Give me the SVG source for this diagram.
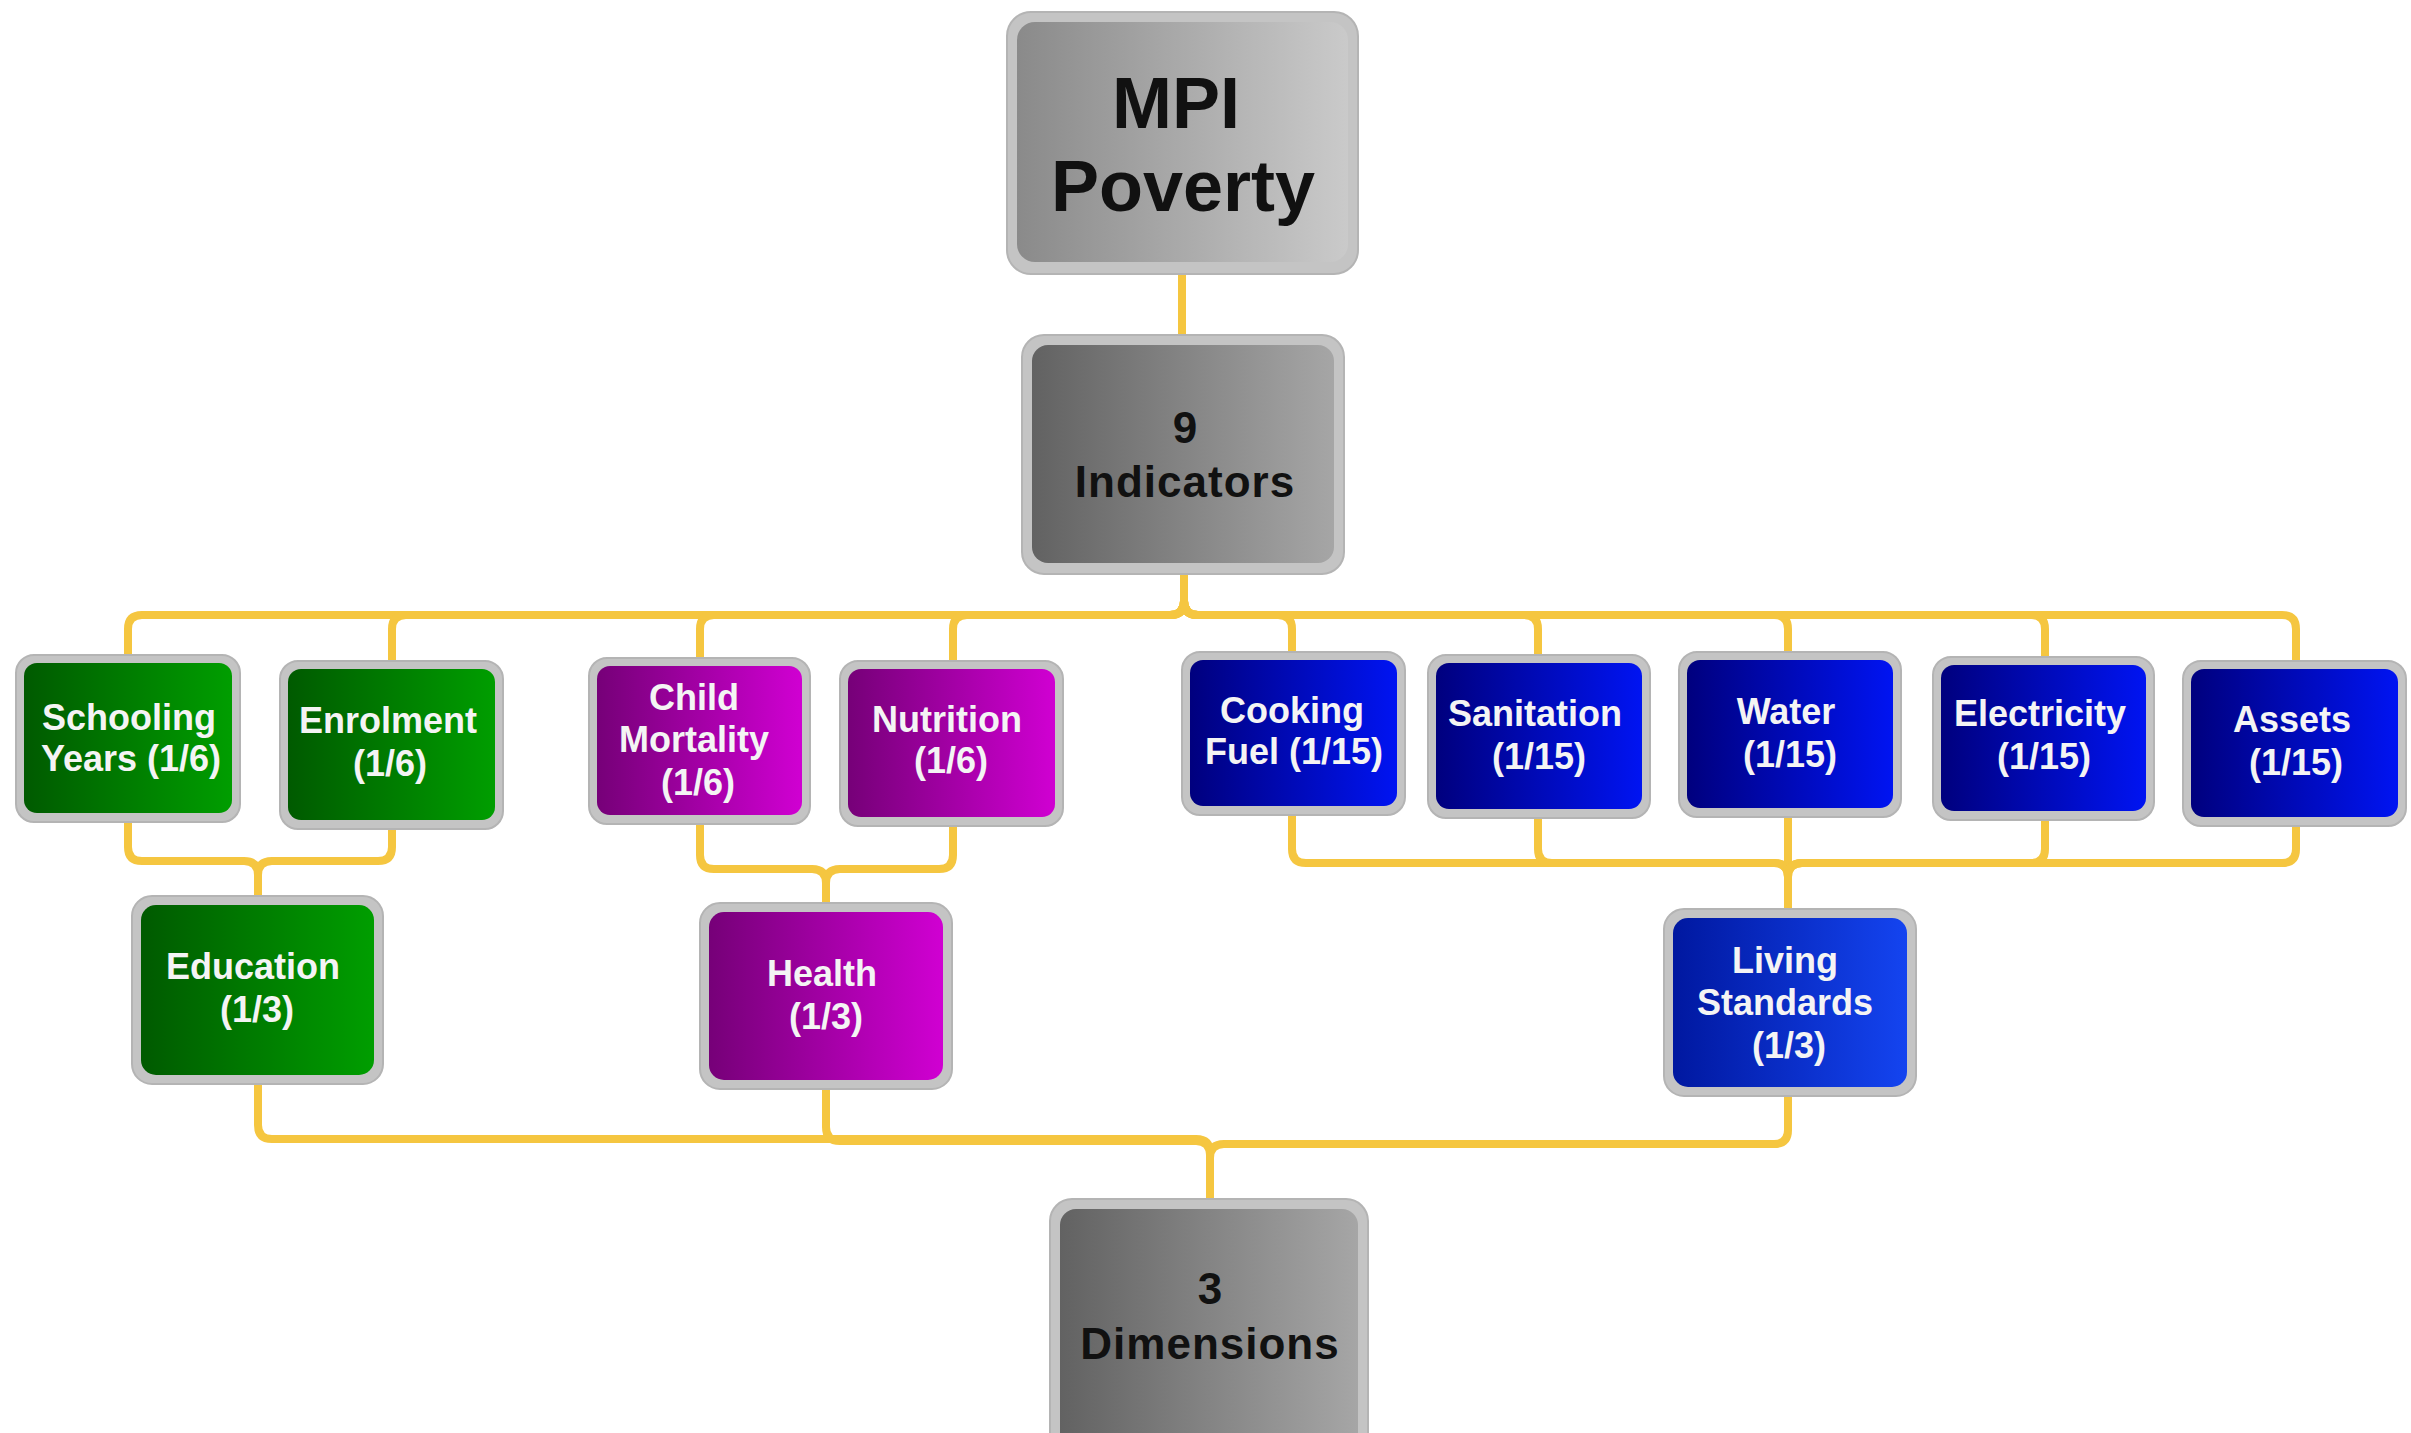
<svg xmlns="http://www.w3.org/2000/svg" width="2411" height="1433" viewBox="0 0 2411 1433">
<defs>
<linearGradient id="gLight" x1="0" y1="0" x2="1" y2="0"><stop offset="0" stop-color="#8a8a8a"/><stop offset="1" stop-color="#cacaca"/></linearGradient>
<linearGradient id="gDark" x1="0" y1="0" x2="1" y2="0"><stop offset="0" stop-color="#626262"/><stop offset="1" stop-color="#a6a6a6"/></linearGradient>
<linearGradient id="gGreen" x1="0" y1="0" x2="1" y2="0"><stop offset="0" stop-color="#005a00"/><stop offset="1" stop-color="#009e00"/></linearGradient>
<linearGradient id="gPurple" x1="0" y1="0" x2="1" y2="0"><stop offset="0" stop-color="#760078"/><stop offset="1" stop-color="#d000d2"/></linearGradient>
<linearGradient id="gBlue" x1="0" y1="0" x2="1" y2="0"><stop offset="0" stop-color="#00007e"/><stop offset="1" stop-color="#0014f2"/></linearGradient>
<linearGradient id="gBlue2" x1="0" y1="0" x2="1" y2="0"><stop offset="0" stop-color="#0018a0"/><stop offset="1" stop-color="#1444f0"/></linearGradient>
</defs>
<style>
.conn path{fill:none;stroke:#f5c640;stroke-width:8;stroke-linecap:round;stroke-linejoin:round}
.frame{fill:#c4c4c4;stroke:#b4b4b4;stroke-width:2}
.t{font-family:"Liberation Sans",Arial,sans-serif;font-weight:bold;text-anchor:middle}
.w{fill:#f4f4f4;font-size:36px}
.k{fill:#111111}
</style>
<rect width="2411" height="1433" fill="#ffffff"/>
<g id="connectors" class="conn">
<path d="M1182,274 V340"/>
<path d="M1184,574 V601 Q1184,615 1170,615 H142 Q128,615 128,629 V662"/>
<path d="M1184,574 V601 Q1184,615 1170,615 H406 Q392,615 392,629 V668"/>
<path d="M1184,574 V601 Q1184,615 1170,615 H714 Q700,615 700,629 V665"/>
<path d="M1184,574 V601 Q1184,615 1170,615 H967 Q953,615 953,629 V668"/>
<path d="M1184,574 V601 Q1184,615 1198,615 H1278 Q1292,615 1292,629 V660"/>
<path d="M1184,574 V601 Q1184,615 1198,615 H1524 Q1538,615 1538,629 V662"/>
<path d="M1184,574 V601 Q1184,615 1198,615 H1774 Q1788,615 1788,629 V660"/>
<path d="M1184,574 V601 Q1184,615 1198,615 H2031 Q2045,615 2045,629 V664"/>
<path d="M1184,574 V601 Q1184,615 1198,615 H2282 Q2296,615 2296,629 V668"/>
<path d="M128,815 V847 Q128,861 142,861 H244 Q258,861 258,875 V903"/>
<path d="M392,822 V847 Q392,861 378,861 H272 Q258,861 258,875 V903"/>
<path d="M700,817 V855 Q700,869 714,869 H812 Q826,869 826,883 V910"/>
<path d="M953,819 V855 Q953,869 939,869 H840 Q826,869 826,883 V910"/>
<path d="M1292,808 V849 Q1292,863 1306,863 H1774 Q1788,863 1788,877 V916"/>
<path d="M1538,811 V849 Q1538,863 1552,863 H1774 Q1788,863 1788,877 V916"/>
<path d="M1788,810 V916"/>
<path d="M2045,813 V849 Q2045,863 2031,863 H1802 Q1788,863 1788,877 V916"/>
<path d="M2296,819 V849 Q2296,863 2282,863 H1802 Q1788,863 1788,877 V916"/>
<path d="M258,1077 V1125 Q258,1139 272,1139 H1196 Q1210,1139 1210,1153 V1206"/>
<path d="M826,1082 V1127 Q826,1141 840,1141 H1196 Q1210,1141 1210,1155 V1206"/>
<path d="M1788,1089 V1130 Q1788,1144 1774,1144 H1224 Q1210,1144 1210,1158 V1206"/>
</g>
<g id="mpi"><rect class="frame" x="1007" y="12" width="351" height="262" rx="24"/><rect x="1017" y="22" width="331" height="240" rx="18" fill="url(#gLight)"/>
<text class="t k" x="1176" y="128" font-size="72">MPI</text><text class="t k" x="1183" y="211" font-size="72">Poverty</text></g>
<g id="indicators"><rect class="frame" x="1022" y="335" width="322" height="239" rx="22"/><rect x="1032" y="345" width="302" height="218" rx="16" fill="url(#gDark)"/>
<text class="t k" x="1185" y="443" font-size="44">9</text><text class="t k" x="1185" y="497" font-size="44" letter-spacing="1">Indicators</text></g>
<g id="schooling"><rect class="frame" x="16" y="655" width="224" height="167" rx="18"/><rect x="24" y="663" width="208" height="150" rx="13" fill="url(#gGreen)"/>
<text class="t w" x="129" y="730">Schooling</text><text class="t w" x="131" y="771">Years (1/6)</text></g>
<g id="enrolment"><rect class="frame" x="280" y="661" width="223" height="168" rx="18"/><rect x="288" y="669" width="207" height="151" rx="13" fill="url(#gGreen)"/>
<text class="t w" x="388" y="733">Enrolment</text><text class="t w" x="390" y="776">(1/6)</text></g>
<g id="child-mortality"><rect class="frame" x="589" y="658" width="221" height="166" rx="18"/><rect x="597" y="666" width="205" height="149" rx="13" fill="url(#gPurple)"/>
<text class="t w" x="694" y="710">Child</text><text class="t w" x="694" y="752">Mortality</text><text class="t w" x="698" y="795">(1/6)</text></g>
<g id="nutrition"><rect class="frame" x="840" y="661" width="223" height="165" rx="18"/><rect x="848" y="669" width="207" height="148" rx="13" fill="url(#gPurple)"/>
<text class="t w" x="947" y="732">Nutrition</text><text class="t w" x="951" y="773">(1/6)</text></g>
<g id="cooking-fuel"><rect class="frame" x="1182" y="652" width="223" height="163" rx="18"/><rect x="1190" y="660" width="207" height="146" rx="13" fill="url(#gBlue)"/>
<text class="t w" x="1292" y="723">Cooking</text><text class="t w" x="1294" y="764">Fuel (1/15)</text></g>
<g id="sanitation"><rect class="frame" x="1428" y="655" width="222" height="163" rx="18"/><rect x="1436" y="663" width="206" height="146" rx="13" fill="url(#gBlue)"/>
<text class="t w" x="1535" y="726">Sanitation</text><text class="t w" x="1539" y="769">(1/15)</text></g>
<g id="water"><rect class="frame" x="1679" y="652" width="222" height="165" rx="18"/><rect x="1687" y="660" width="206" height="148" rx="13" fill="url(#gBlue)"/>
<text class="t w" x="1786" y="724">Water</text><text class="t w" x="1790" y="767">(1/15)</text></g>
<g id="electricity"><rect class="frame" x="1933" y="657" width="221" height="163" rx="18"/><rect x="1941" y="665" width="205" height="146" rx="13" fill="url(#gBlue)"/>
<text class="t w" x="2040" y="726">Electricity</text><text class="t w" x="2044" y="769">(1/15)</text></g>
<g id="assets"><rect class="frame" x="2183" y="661" width="223" height="165" rx="18"/><rect x="2191" y="669" width="207" height="148" rx="13" fill="url(#gBlue)"/>
<text class="t w" x="2292" y="732">Assets</text><text class="t w" x="2296" y="775">(1/15)</text></g>
<g id="education"><rect class="frame" x="132" y="896" width="251" height="188" rx="20"/><rect x="141" y="905" width="233" height="170" rx="15" fill="url(#gGreen)"/>
<text class="t w" x="253" y="979">Education</text><text class="t w" x="257" y="1022">(1/3)</text></g>
<g id="health"><rect class="frame" x="700" y="903" width="252" height="186" rx="20"/><rect x="709" y="912" width="234" height="168" rx="15" fill="url(#gPurple)"/>
<text class="t w" x="822" y="986">Health</text><text class="t w" x="826" y="1029">(1/3)</text></g>
<g id="living-standards"><rect class="frame" x="1664" y="909" width="252" height="187" rx="20"/><rect x="1673" y="918" width="234" height="169" rx="15" fill="url(#gBlue2)"/>
<text class="t w" x="1785" y="973">Living</text><text class="t w" x="1785" y="1015">Standards</text><text class="t w" x="1789" y="1058">(1/3)</text></g>
<g id="dimensions"><rect class="frame" x="1050" y="1199" width="318" height="260" rx="22"/><rect x="1060" y="1209" width="298" height="240" rx="16" fill="url(#gDark)"/>
<text class="t k" x="1210" y="1304" font-size="44">3</text><text class="t k" x="1210" y="1359" font-size="44" letter-spacing="1">Dimensions</text></g>
</svg>
